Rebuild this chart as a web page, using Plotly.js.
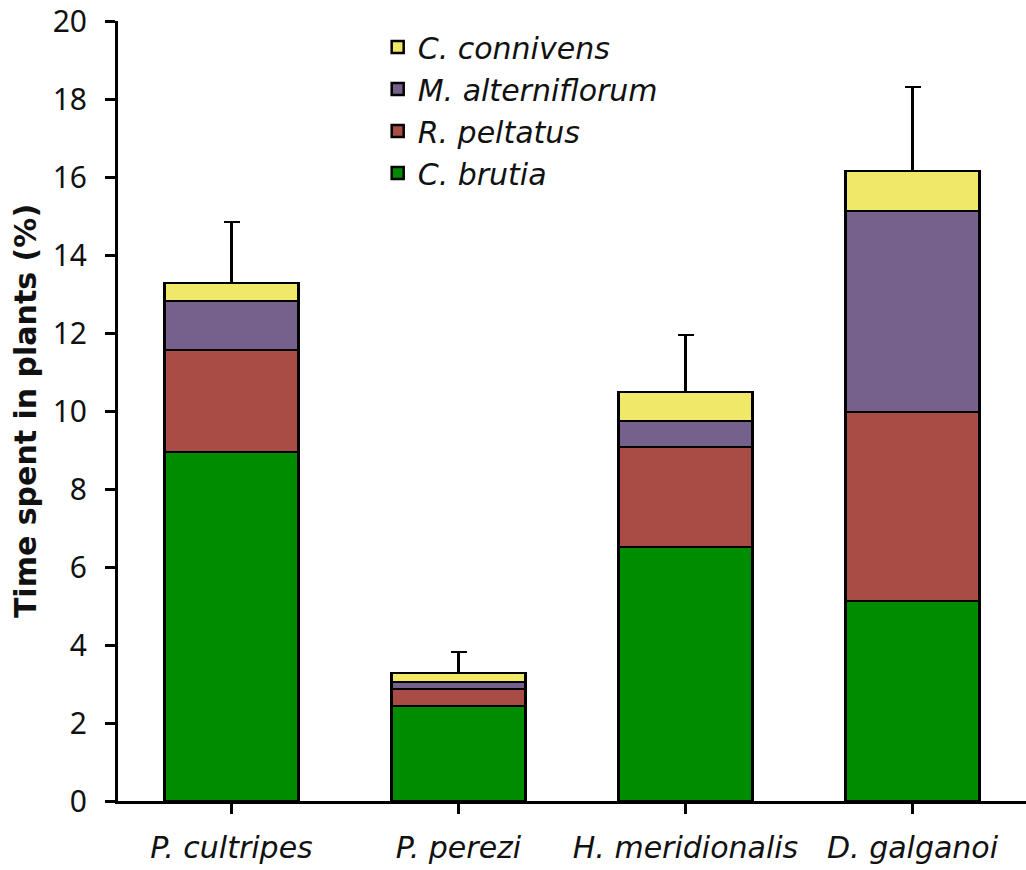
<!DOCTYPE html>
<html>
<head>
<meta charset="utf-8">
<script src="https://cdn.plot.ly/plotly-3.0.1.min.js"></script>
<style>
  html, body { margin: 0; padding: 0; background: #fff; }
  #chart { width: 1026px; height: 870px; }
</style>
</head>
<body>
<div id="chart"></div>
<script>
// Tadpole species (x categories)
const species = ['P. cultripes', 'P. perezi', 'H. meridionalis', 'D. galganoi'];

// Time spent in each plant species (%), stacked
const cBrutia = [8.95, 2.44, 6.51, 5.13];
const rPeltatus = [2.61, 0.43, 2.57, 4.84];
const mAlterniflorum = [1.26, 0.18, 0.66, 5.16];
const cConnivens = [0.46, 0.23, 0.75, 1.02];

// Upper error of the total
const totalError = [1.57, 0.54, 1.46, 2.16];

// Y axis ticks
const yTicks = [0, 2, 4, 6, 8, 10, 12, 14, 16, 18, 20];

const fontFam = '"Noto Sans", "Open Sans", sans-serif';
const wideFam = '"DejaVu Sans", sans-serif';
const outline = { color: '#000', width: 2.5 };

function seriesTrace(name, values, color, withError) {
  const t = {
    type: 'bar',
    name: name,
    x: species,
    y: values,
    marker: { color: color, line: outline },
    width: 0.59
  };
  if (withError) {
    t.error_y = {
      type: 'data',
      array: totalError,
      arrayminus: totalError.map(() => 0),
      symmetric: false,
      color: '#000',
      thickness: 2.5,
      width: 8
    };
  }
  return t;
}

const data = [
  seriesTrace('C. brutia', cBrutia, '#008c00', false),
  seriesTrace('R. peltatus', rPeltatus, '#a84c45', false),
  seriesTrace('M. alterniflorum', mAlterniflorum, '#76608c', false),
  seriesTrace('C. connivens', cConnivens, '#f0e868', true)
];

const layout = {
  width: 1026,
  height: 870,
  margin: { l: 118, r: 0, t: 21, b: 69 },
  paper_bgcolor: '#fff',
  plot_bgcolor: '#fff',
  barmode: 'stack',
  showlegend: true,
  font: { family: fontFam, color: '#111' },
  legend: {
    x: 0.286, y: 1.0, xanchor: 'left', yanchor: 'top',
    traceorder: 'reversed',
    font: { family: wideFam, size: 30, style: 'italic', color: '#111' },
    bgcolor: 'rgba(0,0,0,0)',
    itemwidth: 30,
    tracegroupgap: 0
  },
  xaxis: {
    type: 'category',
    range: [-0.5, 3.5],
    automargin: false,
    showline: true, linecolor: '#000', linewidth: 3,
    ticks: 'outside', ticklen: 10, tickwidth: 2.5, tickcolor: '#000',
    ticklabelstandoff: 8,
    tickfont: { family: wideFam, size: 30, style: 'italic', color: '#111' },
    showgrid: false, zeroline: false
  },
  yaxis: {
    range: [0, 20],
    automargin: false,
    tickvals: yTicks,
    ticklabeloverflow: 'allow',
    showline: true, linecolor: '#000', linewidth: 3,
    ticks: 'outside', ticklen: 10, tickwidth: 3, tickcolor: '#000',
    ticklabelstandoff: 12,
    tickfont: { family: fontFam, size: 30, color: '#111' },
    showgrid: false, zeroline: false,
    title: {
      text: '<b>Time spent in plants (%)</b>',
      font: { family: wideFam, size: 30, color: '#111' },
      standoff: 8
    }
  }
};

Plotly.newPlot('chart', data, layout, { displayModeBar: false, staticPlot: true });
</script>
</body>
</html>
